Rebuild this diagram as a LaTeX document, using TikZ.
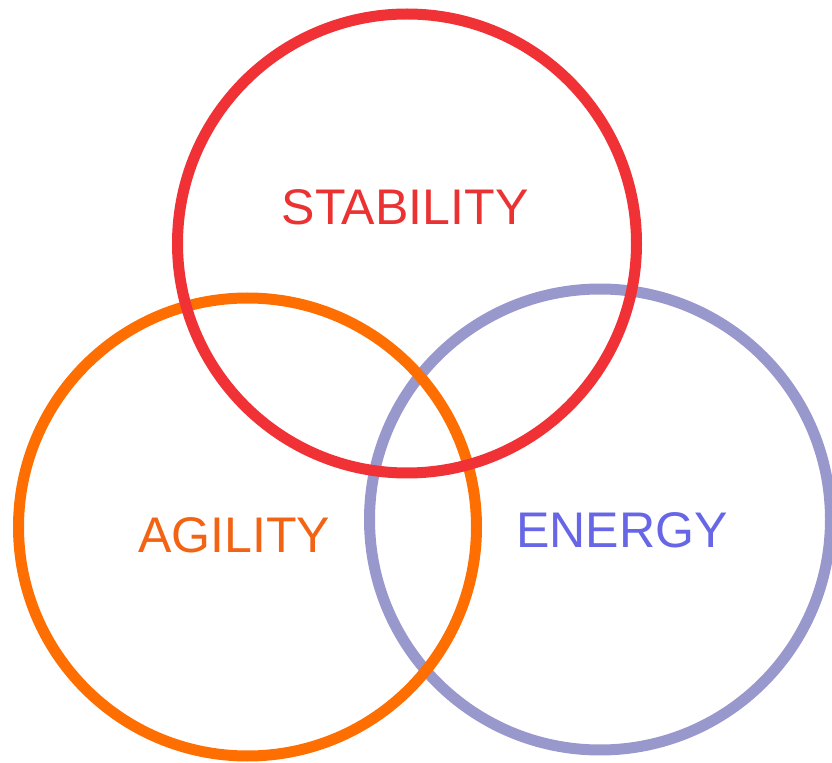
\documentclass[tikz,border=0pt]{standalone}
\usepackage{fontspec}
\setmainfont{Liberation Sans}
\usepackage{tikz}
\usetikzlibrary{positioning}
\definecolor{ringred}{RGB}{240,50,55}
\definecolor{ringorange}{RGB}{255,110,0}
\definecolor{ringblue}{RGB}{152,152,204}
\definecolor{textred}{RGB}{235,50,50}
\definecolor{textorange}{RGB}{242,100,20}
\definecolor{textblue}{RGB}{102,102,230}

\begin{document}
\begin{tikzpicture}[x=0.02cm,y=-0.02cm,
    ring/.style={line width=0.22cm},
    word/.style={font=\fontsize{28.5}{30}\selectfont, inner sep=0pt}]
            \useasboundingbox (0,0) rectangle (832,763);

            \draw[ring, ringblue] (600,519.5) circle [radius=230.5];
            \draw[ring, ringorange] (247.5,527) circle [radius=229];
            \draw[ring, ringred] (407,243.5) circle [radius=229.5];

            \node[word, text=textred] (stability) at (405,207) {STABILITY};
            \node[word, text=textorange] (agility) at (234,535) {AGILITY};
            \node[word, text=textblue] (energy) at (622,530) {ENERGY};

\end{tikzpicture}
\end{document}
